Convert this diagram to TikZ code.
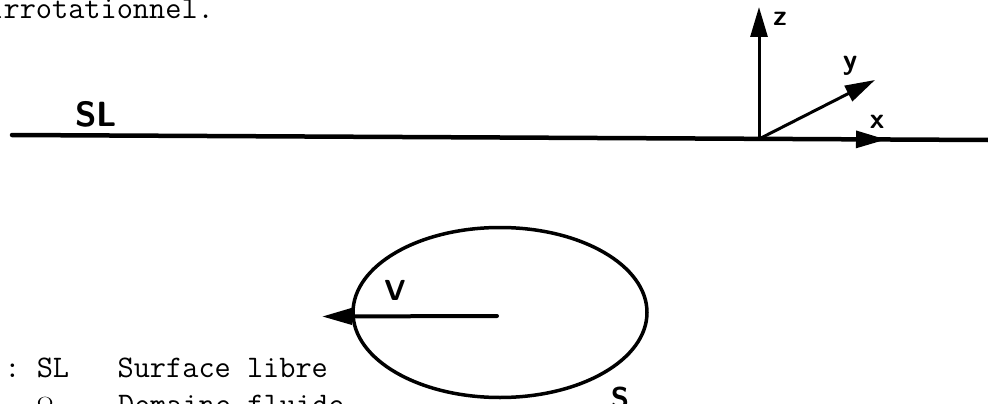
\documentclass[tikz,border=0pt]{standalone}
\usetikzlibrary{arrows.meta,positioning,shapes.geometric}

\begin{document}
\begin{tikzpicture}[x=1pt, y=-1pt,
  axis/.style={line width=3pt, -{Triangle[length=30pt,width=17pt]}},
  tag/.style={font=\fontsize{29}{29}\selectfont\sffamily\bfseries, inner sep=0pt, anchor=base},
  legend/.style={font=\fontsize{31.4}{37}\selectfont\ttfamily, inner sep=0pt, anchor=base west},
]
  \useasboundingbox (0,0) rectangle (988,404);
  \clip (0,0) rectangle (988,404);

  \node[legend] (top) at (-12.75,19) {irrotationnel.};

  % free surface and axes
  \coordinate (slL) at (12,135);
  \coordinate (slR) at (988,140);
  \draw[line width=4.5pt, line cap=round] (slL) -- (slR);
  \node[tag, font=\fontsize{35}{35}\selectfont\sffamily\bfseries] (sl) at (96,126) {SL};

  \coordinate (O) at (759,139);
  \coordinate (zend) at (759,7);
  \coordinate (yend) at (875,80);
  \coordinate (xend) at (886,139.5);
  \draw[axis] (O) -- (zend);
  \draw[axis] (O) -- (yend);
  \draw[axis] (O) -- (xend);
  \node[tag] (zl) at (780,26) {z};
  \node[tag] (yl) at (850,70) {y};
  \node[tag] (xl) at (877,128) {x};

  % immersed body
  \node[draw, ellipse, line width=3.5pt, minimum width=294pt, minimum height=170pt] (body) at (500,312.5) {};
  \coordinate (vtail) at (497,316);
  \coordinate (vtip) at (322,316.5);
  \draw[line width=4pt, line cap=round, -{Triangle[length=30pt,width=16pt]}] (vtail) -- (vtip);
  \node[tag] (vl) at (395,300) {V};
  \node[tag, font=\fontsize{30}{30}\selectfont\sffamily\bfseries] (sb) at (620,408) {S};

  % legend
  \node[legend] (leg1) at (4.25,377) {:~SL~~~Surface libre};
  \node[legend] (leg2) at (4.25,414) {~~$\Omega$~~~~Domaine fluide};
\end{tikzpicture}
\end{document}
